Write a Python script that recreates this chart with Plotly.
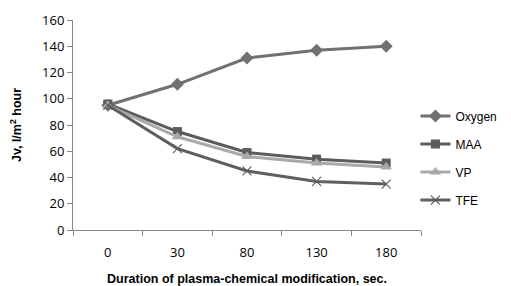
import plotly.graph_objects as go

categories = ["0", "30", "80", "130", "180"]
oxygen = [95, 111, 131, 137, 140]
maa = [96, 75, 59, 54, 51]
vp = [95, 71, 56, 51, 48]
tfe = [95, 62, 45, 37, 35]

series = [
    ("Oxygen", oxygen, "#717171", dict(symbol="diamond", size=10)),
    ("MAA", maa, "#5c5c5c", dict(symbol="square", size=9)),
    ("VP", vp, "#a9a9a9", dict(symbol="triangle-up", size=10)),
    ("TFE", tfe, "#5f5f5f", dict(symbol="x-thin", size=9, line=dict(width=1.2, color="#5f5f5f"))),
]

fig = go.Figure()
for i, (name, vals, col, mk) in enumerate(series):
    fig.add_trace(go.Scatter(
        x=categories, y=vals, name=name, mode="lines+markers",
        line=dict(color=col, width=3), marker=dict(color=col, **mk),
        legendgroup=str(i),
    ))

fig.update_layout(
    width=503, height=278,
    margin=dict(l=65, r=90, t=12, b=56, autoexpand=False),
    paper_bgcolor="white", plot_bgcolor="white",
    font=dict(family="Liberation Sans, Arial", color="#000"),
    showlegend=True,
    legend=dict(xref="container", yref="container", x=0.81, xanchor="left",
                y=0.46, yanchor="middle",
                font=dict(size=12, family="Liberation Sans, Arial"),
                tracegroupgap=9, bgcolor="rgba(0,0,0,0)", itemwidth=30,
                borderwidth=0),
)
fig.update_xaxes(
    type="category", range=[-0.5, 4.5], tickson="boundaries", automargin=False,
    ticks="outside", ticklen=5, tickcolor="#888", showline=True, linecolor="#888",
    showgrid=False, tickfont=dict(size=13, family="Open Sans, Liberation Sans"),
    ticklabelstandoff=10,
    title=dict(text="<b>Duration of plasma-chemical modification, sec.</b>",
               font=dict(size=12.5), standoff=16),
)
fig.update_yaxes(
    range=[0, 160], dtick=20, ticks="outside", ticklen=5, tickcolor="#888",
    showline=True, linecolor="#888", showgrid=False, zeroline=False, automargin=False,
    tickfont=dict(size=13, family="Open Sans, Liberation Sans"),
    title=dict(text="<b>Jv, l/m<sup>2</sup> hour</b>", font=dict(size=12.5), standoff=18),
)
fig.write_html("out.html")
